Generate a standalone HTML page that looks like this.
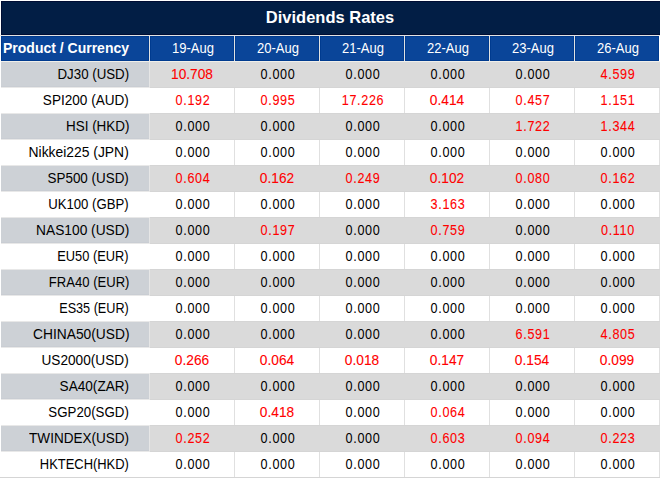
<!DOCTYPE html><html><head><meta charset="utf-8"><style>
html,body{margin:0;padding:0;background:#fff;}
body{width:660px;height:478px;position:relative;overflow:hidden;font-family:"Liberation Sans",sans-serif;}
div,span{position:absolute;box-sizing:border-box;white-space:nowrap;}
.t{left:1px;top:1px;width:659px;height:34px;background:#021e45;border-top:1px solid #000d33;border-left:1px solid #000d33;border-bottom:1px solid #000d33;}
.h{top:36px;height:25px;background:#0a4599;border:1px solid #003b8f;}
.tx{line-height:20px;height:20px;-webkit-text-stroke:0px currentColor;}
.w.tx{-webkit-text-stroke:0;}
.r.tx{-webkit-text-stroke:0.1px currentColor;}
.lb.tx{-webkit-text-stroke:0px currentColor;}
.w{color:#fff;}
.k{color:#000000;}
.r{color:#ff0000;}
.g1{background:#cdd1d6;}
.g2{background:#dadada;}
</style></head><body>
<div style="left:0;top:35px;width:660px;height:1px;background:#e4e4e4"></div>
<div class="t"></div>
<div style="left:1px;top:36px;width:658px;height:25px;background:#e2e2e2"></div>
<div class="h" style="left:1px;width:148px"></div>
<div class="h" style="left:150px;width:84px"></div>
<div class="h" style="left:235px;width:84px"></div>
<div class="h" style="left:320px;width:84px"></div>
<div class="h" style="left:405px;width:84px"></div>
<div class="h" style="left:490px;width:84px"></div>
<div class="h" style="left:575px;width:84px"></div>
<div style="left:1px;top:61px;width:659px;height:1px;background:#f0efea"></div>
<div style="left:0;top:36px;width:1px;height:25px;background:#fff"></div>
<div class="g1" style="left:1px;top:62px;width:148px;height:25px;border-bottom:1px solid #c9cdd3"></div>
<div style="left:149px;top:62px;width:1px;height:25px;background:#e6e6e6"></div>
<div class="g2" style="left:150px;top:62px;width:510px;height:25px"></div>
<div style="left:150px;top:87px;width:510px;height:1px;background:#d5d5d5"></div>
<div style="left:1px;top:87px;width:149px;height:1px;background:#e8e8e8"></div>
<div style="left:234px;top:88px;width:1px;height:25px;background:#e0e0e0"></div>
<div style="left:319px;top:88px;width:1px;height:25px;background:#e0e0e0"></div>
<div style="left:404px;top:88px;width:1px;height:25px;background:#e0e0e0"></div>
<div style="left:489px;top:88px;width:1px;height:25px;background:#e0e0e0"></div>
<div style="left:574px;top:88px;width:1px;height:25px;background:#e0e0e0"></div>
<div style="left:659px;top:88px;width:1px;height:25px;background:#e0e0e0"></div>
<div style="left:150px;top:113px;width:510px;height:1px;background:#d5d5d5"></div>
<div style="left:1px;top:113px;width:149px;height:1px;background:#e8e8e8"></div>
<div class="g1" style="left:1px;top:114px;width:148px;height:25px;border-bottom:1px solid #c9cdd3"></div>
<div style="left:149px;top:114px;width:1px;height:25px;background:#e6e6e6"></div>
<div class="g2" style="left:150px;top:114px;width:510px;height:25px"></div>
<div style="left:150px;top:139px;width:510px;height:1px;background:#d5d5d5"></div>
<div style="left:1px;top:139px;width:149px;height:1px;background:#e8e8e8"></div>
<div style="left:234px;top:140px;width:1px;height:25px;background:#e0e0e0"></div>
<div style="left:319px;top:140px;width:1px;height:25px;background:#e0e0e0"></div>
<div style="left:404px;top:140px;width:1px;height:25px;background:#e0e0e0"></div>
<div style="left:489px;top:140px;width:1px;height:25px;background:#e0e0e0"></div>
<div style="left:574px;top:140px;width:1px;height:25px;background:#e0e0e0"></div>
<div style="left:659px;top:140px;width:1px;height:25px;background:#e0e0e0"></div>
<div style="left:150px;top:165px;width:510px;height:1px;background:#d5d5d5"></div>
<div style="left:1px;top:165px;width:149px;height:1px;background:#e8e8e8"></div>
<div class="g1" style="left:1px;top:166px;width:148px;height:25px;border-bottom:1px solid #c9cdd3"></div>
<div style="left:149px;top:166px;width:1px;height:25px;background:#e6e6e6"></div>
<div class="g2" style="left:150px;top:166px;width:510px;height:25px"></div>
<div style="left:150px;top:191px;width:510px;height:1px;background:#d5d5d5"></div>
<div style="left:1px;top:191px;width:149px;height:1px;background:#e8e8e8"></div>
<div style="left:234px;top:192px;width:1px;height:25px;background:#e0e0e0"></div>
<div style="left:319px;top:192px;width:1px;height:25px;background:#e0e0e0"></div>
<div style="left:404px;top:192px;width:1px;height:25px;background:#e0e0e0"></div>
<div style="left:489px;top:192px;width:1px;height:25px;background:#e0e0e0"></div>
<div style="left:574px;top:192px;width:1px;height:25px;background:#e0e0e0"></div>
<div style="left:659px;top:192px;width:1px;height:25px;background:#e0e0e0"></div>
<div style="left:150px;top:217px;width:510px;height:1px;background:#d5d5d5"></div>
<div style="left:1px;top:217px;width:149px;height:1px;background:#e8e8e8"></div>
<div class="g1" style="left:1px;top:218px;width:148px;height:25px;border-bottom:1px solid #c9cdd3"></div>
<div style="left:149px;top:218px;width:1px;height:25px;background:#e6e6e6"></div>
<div class="g2" style="left:150px;top:218px;width:510px;height:25px"></div>
<div style="left:150px;top:243px;width:510px;height:1px;background:#d5d5d5"></div>
<div style="left:1px;top:243px;width:149px;height:1px;background:#e8e8e8"></div>
<div style="left:234px;top:244px;width:1px;height:25px;background:#e0e0e0"></div>
<div style="left:319px;top:244px;width:1px;height:25px;background:#e0e0e0"></div>
<div style="left:404px;top:244px;width:1px;height:25px;background:#e0e0e0"></div>
<div style="left:489px;top:244px;width:1px;height:25px;background:#e0e0e0"></div>
<div style="left:574px;top:244px;width:1px;height:25px;background:#e0e0e0"></div>
<div style="left:659px;top:244px;width:1px;height:25px;background:#e0e0e0"></div>
<div style="left:150px;top:269px;width:510px;height:1px;background:#d5d5d5"></div>
<div style="left:1px;top:269px;width:149px;height:1px;background:#e8e8e8"></div>
<div class="g1" style="left:1px;top:270px;width:148px;height:25px;border-bottom:1px solid #c9cdd3"></div>
<div style="left:149px;top:270px;width:1px;height:25px;background:#e6e6e6"></div>
<div class="g2" style="left:150px;top:270px;width:510px;height:25px"></div>
<div style="left:150px;top:295px;width:510px;height:1px;background:#d5d5d5"></div>
<div style="left:1px;top:295px;width:149px;height:1px;background:#e8e8e8"></div>
<div style="left:234px;top:296px;width:1px;height:25px;background:#e0e0e0"></div>
<div style="left:319px;top:296px;width:1px;height:25px;background:#e0e0e0"></div>
<div style="left:404px;top:296px;width:1px;height:25px;background:#e0e0e0"></div>
<div style="left:489px;top:296px;width:1px;height:25px;background:#e0e0e0"></div>
<div style="left:574px;top:296px;width:1px;height:25px;background:#e0e0e0"></div>
<div style="left:659px;top:296px;width:1px;height:25px;background:#e0e0e0"></div>
<div style="left:150px;top:321px;width:510px;height:1px;background:#d5d5d5"></div>
<div style="left:1px;top:321px;width:149px;height:1px;background:#e8e8e8"></div>
<div class="g1" style="left:1px;top:322px;width:148px;height:25px;border-bottom:1px solid #c9cdd3"></div>
<div style="left:149px;top:322px;width:1px;height:25px;background:#e6e6e6"></div>
<div class="g2" style="left:150px;top:322px;width:510px;height:25px"></div>
<div style="left:150px;top:347px;width:510px;height:1px;background:#d5d5d5"></div>
<div style="left:1px;top:347px;width:149px;height:1px;background:#e8e8e8"></div>
<div style="left:234px;top:348px;width:1px;height:25px;background:#e0e0e0"></div>
<div style="left:319px;top:348px;width:1px;height:25px;background:#e0e0e0"></div>
<div style="left:404px;top:348px;width:1px;height:25px;background:#e0e0e0"></div>
<div style="left:489px;top:348px;width:1px;height:25px;background:#e0e0e0"></div>
<div style="left:574px;top:348px;width:1px;height:25px;background:#e0e0e0"></div>
<div style="left:659px;top:348px;width:1px;height:25px;background:#e0e0e0"></div>
<div style="left:150px;top:373px;width:510px;height:1px;background:#d5d5d5"></div>
<div style="left:1px;top:373px;width:149px;height:1px;background:#e8e8e8"></div>
<div class="g1" style="left:1px;top:374px;width:148px;height:25px;border-bottom:1px solid #c9cdd3"></div>
<div style="left:149px;top:374px;width:1px;height:25px;background:#e6e6e6"></div>
<div class="g2" style="left:150px;top:374px;width:510px;height:25px"></div>
<div style="left:150px;top:399px;width:510px;height:1px;background:#d5d5d5"></div>
<div style="left:1px;top:399px;width:149px;height:1px;background:#e8e8e8"></div>
<div style="left:234px;top:400px;width:1px;height:25px;background:#e0e0e0"></div>
<div style="left:319px;top:400px;width:1px;height:25px;background:#e0e0e0"></div>
<div style="left:404px;top:400px;width:1px;height:25px;background:#e0e0e0"></div>
<div style="left:489px;top:400px;width:1px;height:25px;background:#e0e0e0"></div>
<div style="left:574px;top:400px;width:1px;height:25px;background:#e0e0e0"></div>
<div style="left:659px;top:400px;width:1px;height:25px;background:#e0e0e0"></div>
<div style="left:150px;top:425px;width:510px;height:1px;background:#d5d5d5"></div>
<div style="left:1px;top:425px;width:149px;height:1px;background:#e8e8e8"></div>
<div class="g1" style="left:1px;top:426px;width:148px;height:25px;border-bottom:1px solid #c9cdd3"></div>
<div style="left:149px;top:426px;width:1px;height:25px;background:#e6e6e6"></div>
<div class="g2" style="left:150px;top:426px;width:510px;height:25px"></div>
<div style="left:150px;top:451px;width:510px;height:1px;background:#d5d5d5"></div>
<div style="left:1px;top:451px;width:149px;height:1px;background:#e8e8e8"></div>
<div style="left:234px;top:452px;width:1px;height:25px;background:#e0e0e0"></div>
<div style="left:319px;top:452px;width:1px;height:25px;background:#e0e0e0"></div>
<div style="left:404px;top:452px;width:1px;height:25px;background:#e0e0e0"></div>
<div style="left:489px;top:452px;width:1px;height:25px;background:#e0e0e0"></div>
<div style="left:574px;top:452px;width:1px;height:25px;background:#e0e0e0"></div>
<div style="left:659px;top:452px;width:1px;height:25px;background:#e0e0e0"></div>
<div style="left:150px;top:477px;width:510px;height:1px;background:#d5d5d5"></div>
<div style="left:1px;top:477px;width:149px;height:1px;background:#e8e8e8"></div>
<div style="left:0;top:477px;width:660px;height:1px;background:#d5d5d5"></div>
<span class="tx w" style="font-size:17px;font-weight:bold;top:8px;letter-spacing:0px;left:230.0px;width:200px;text-align:center;transform-origin:50% 50%;transform:scaleX(0.9700);">Dividends Rates</span>
<span class="tx w" style="font-size:14px;font-weight:bold;top:38px;letter-spacing:0px;left:3px;transform-origin:0 50%;">Product / Currency</span>
<span class="tx w" style="font-size:14px;font-weight:normal;top:38px;letter-spacing:0px;left:92.5px;width:200px;text-align:center;transform-origin:50% 50%;transform:scaleX(0.9300);">19-Aug</span>
<span class="tx w" style="font-size:14px;font-weight:normal;top:38px;letter-spacing:0px;left:177.5px;width:200px;text-align:center;transform-origin:50% 50%;transform:scaleX(0.9300);">20-Aug</span>
<span class="tx w" style="font-size:14px;font-weight:normal;top:38px;letter-spacing:0px;left:262.5px;width:200px;text-align:center;transform-origin:50% 50%;transform:scaleX(0.9300);">21-Aug</span>
<span class="tx w" style="font-size:14px;font-weight:normal;top:38px;letter-spacing:0px;left:347.5px;width:200px;text-align:center;transform-origin:50% 50%;transform:scaleX(0.9300);">22-Aug</span>
<span class="tx w" style="font-size:14px;font-weight:normal;top:38px;letter-spacing:0px;left:432.5px;width:200px;text-align:center;transform-origin:50% 50%;transform:scaleX(0.9300);">23-Aug</span>
<span class="tx w" style="font-size:14px;font-weight:normal;top:38px;letter-spacing:0px;left:517.5px;width:200px;text-align:center;transform-origin:50% 50%;transform:scaleX(0.9300);">26-Aug</span>
<span class="tx k lb" style="font-size:14.5px;font-weight:normal;top:64px;letter-spacing:0px;right:531.0px;transform-origin:100% 50%;transform:scaleX(0.9171);">DJ30 (USD)</span>
<span class="tx r" style="font-size:14.5px;font-weight:normal;top:64px;letter-spacing:0px;left:92.0px;width:200px;text-align:center;transform-origin:50% 50%;transform:scaleX(0.9450);">10.708</span>
<span class="tx k" style="font-size:14.5px;font-weight:normal;top:64px;letter-spacing:0.75px;left:177.82625000000002px;width:200px;text-align:center;transform-origin:50% 50%;transform:scaleX(0.8700);">0.000</span>
<span class="tx k" style="font-size:14.5px;font-weight:normal;top:64px;letter-spacing:0.75px;left:262.82625px;width:200px;text-align:center;transform-origin:50% 50%;transform:scaleX(0.8700);">0.000</span>
<span class="tx k" style="font-size:14.5px;font-weight:normal;top:64px;letter-spacing:0.75px;left:347.82625px;width:200px;text-align:center;transform-origin:50% 50%;transform:scaleX(0.8700);">0.000</span>
<span class="tx k" style="font-size:14.5px;font-weight:normal;top:64px;letter-spacing:0.75px;left:432.82624999999996px;width:200px;text-align:center;transform-origin:50% 50%;transform:scaleX(0.8700);">0.000</span>
<span class="tx r" style="font-size:14.5px;font-weight:normal;top:64px;letter-spacing:0.75px;left:517.82625px;width:200px;text-align:center;transform-origin:50% 50%;transform:scaleX(0.8700);">4.599</span>
<span class="tx k lb" style="font-size:14.5px;font-weight:normal;top:90px;letter-spacing:0px;right:531.0px;transform-origin:100% 50%;transform:scaleX(0.9366);">SPI200 (AUD)</span>
<span class="tx r" style="font-size:14.5px;font-weight:normal;top:90px;letter-spacing:0.75px;left:92.82624999999999px;width:200px;text-align:center;transform-origin:50% 50%;transform:scaleX(0.8700);">0.192</span>
<span class="tx r" style="font-size:14.5px;font-weight:normal;top:90px;letter-spacing:0.75px;left:177.82625000000002px;width:200px;text-align:center;transform-origin:50% 50%;transform:scaleX(0.8700);">0.995</span>
<span class="tx r" style="font-size:14.5px;font-weight:normal;top:90px;letter-spacing:0.75px;left:262.82625px;width:200px;text-align:center;transform-origin:50% 50%;transform:scaleX(0.8700);">17.226</span>
<span class="tx r" style="font-size:14.5px;font-weight:normal;top:90px;letter-spacing:0px;left:347.0px;width:200px;text-align:center;transform-origin:50% 50%;transform:scaleX(0.9450);">0.414</span>
<span class="tx r" style="font-size:14.5px;font-weight:normal;top:90px;letter-spacing:0.75px;left:432.82624999999996px;width:200px;text-align:center;transform-origin:50% 50%;transform:scaleX(0.8700);">0.457</span>
<span class="tx r" style="font-size:14.5px;font-weight:normal;top:90px;letter-spacing:0.75px;left:517.82625px;width:200px;text-align:center;transform-origin:50% 50%;transform:scaleX(0.8700);">1.151</span>
<span class="tx k lb" style="font-size:14.5px;font-weight:normal;top:116px;letter-spacing:0px;right:531.0px;transform-origin:100% 50%;transform:scaleX(0.9271);">HSI (HKD)</span>
<span class="tx k" style="font-size:14.5px;font-weight:normal;top:116px;letter-spacing:0.75px;left:92.82624999999999px;width:200px;text-align:center;transform-origin:50% 50%;transform:scaleX(0.8700);">0.000</span>
<span class="tx k" style="font-size:14.5px;font-weight:normal;top:116px;letter-spacing:0.75px;left:177.82625000000002px;width:200px;text-align:center;transform-origin:50% 50%;transform:scaleX(0.8700);">0.000</span>
<span class="tx k" style="font-size:14.5px;font-weight:normal;top:116px;letter-spacing:0.75px;left:262.82625px;width:200px;text-align:center;transform-origin:50% 50%;transform:scaleX(0.8700);">0.000</span>
<span class="tx k" style="font-size:14.5px;font-weight:normal;top:116px;letter-spacing:0.75px;left:347.82625px;width:200px;text-align:center;transform-origin:50% 50%;transform:scaleX(0.8700);">0.000</span>
<span class="tx r" style="font-size:14.5px;font-weight:normal;top:116px;letter-spacing:0.75px;left:432.82624999999996px;width:200px;text-align:center;transform-origin:50% 50%;transform:scaleX(0.8700);">1.722</span>
<span class="tx r" style="font-size:14.5px;font-weight:normal;top:116px;letter-spacing:0.75px;left:517.82625px;width:200px;text-align:center;transform-origin:50% 50%;transform:scaleX(0.8700);">1.344</span>
<span class="tx k lb" style="font-size:14.5px;font-weight:normal;top:142px;letter-spacing:0px;right:531.0px;transform-origin:100% 50%;transform:scaleX(0.9567);">Nikkei225 (JPN)</span>
<span class="tx k" style="font-size:14.5px;font-weight:normal;top:142px;letter-spacing:0.75px;left:92.82624999999999px;width:200px;text-align:center;transform-origin:50% 50%;transform:scaleX(0.8700);">0.000</span>
<span class="tx k" style="font-size:14.5px;font-weight:normal;top:142px;letter-spacing:0.75px;left:177.82625000000002px;width:200px;text-align:center;transform-origin:50% 50%;transform:scaleX(0.8700);">0.000</span>
<span class="tx k" style="font-size:14.5px;font-weight:normal;top:142px;letter-spacing:0.75px;left:262.82625px;width:200px;text-align:center;transform-origin:50% 50%;transform:scaleX(0.8700);">0.000</span>
<span class="tx k" style="font-size:14.5px;font-weight:normal;top:142px;letter-spacing:0.75px;left:347.82625px;width:200px;text-align:center;transform-origin:50% 50%;transform:scaleX(0.8700);">0.000</span>
<span class="tx k" style="font-size:14.5px;font-weight:normal;top:142px;letter-spacing:0.75px;left:432.82624999999996px;width:200px;text-align:center;transform-origin:50% 50%;transform:scaleX(0.8700);">0.000</span>
<span class="tx k" style="font-size:14.5px;font-weight:normal;top:142px;letter-spacing:0.75px;left:517.82625px;width:200px;text-align:center;transform-origin:50% 50%;transform:scaleX(0.8700);">0.000</span>
<span class="tx k lb" style="font-size:14.5px;font-weight:normal;top:168px;letter-spacing:0px;right:531.0px;transform-origin:100% 50%;transform:scaleX(0.9255);">SP500 (USD)</span>
<span class="tx r" style="font-size:14.5px;font-weight:normal;top:168px;letter-spacing:0.75px;left:92.82624999999999px;width:200px;text-align:center;transform-origin:50% 50%;transform:scaleX(0.8700);">0.604</span>
<span class="tx r" style="font-size:14.5px;font-weight:normal;top:168px;letter-spacing:0px;left:177.0px;width:200px;text-align:center;transform-origin:50% 50%;transform:scaleX(0.9450);">0.162</span>
<span class="tx r" style="font-size:14.5px;font-weight:normal;top:168px;letter-spacing:0.75px;left:262.82625px;width:200px;text-align:center;transform-origin:50% 50%;transform:scaleX(0.8700);">0.249</span>
<span class="tx r" style="font-size:14.5px;font-weight:normal;top:168px;letter-spacing:0px;left:347.0px;width:200px;text-align:center;transform-origin:50% 50%;transform:scaleX(0.9450);">0.102</span>
<span class="tx r" style="font-size:14.5px;font-weight:normal;top:168px;letter-spacing:0.75px;left:432.82624999999996px;width:200px;text-align:center;transform-origin:50% 50%;transform:scaleX(0.8700);">0.080</span>
<span class="tx r" style="font-size:14.5px;font-weight:normal;top:168px;letter-spacing:0.75px;left:517.82625px;width:200px;text-align:center;transform-origin:50% 50%;transform:scaleX(0.8700);">0.162</span>
<span class="tx k lb" style="font-size:14.5px;font-weight:normal;top:194px;letter-spacing:0px;right:531.0px;transform-origin:100% 50%;transform:scaleX(0.9075);">UK100 (GBP)</span>
<span class="tx k" style="font-size:14.5px;font-weight:normal;top:194px;letter-spacing:0.75px;left:92.82624999999999px;width:200px;text-align:center;transform-origin:50% 50%;transform:scaleX(0.8700);">0.000</span>
<span class="tx k" style="font-size:14.5px;font-weight:normal;top:194px;letter-spacing:0.75px;left:177.82625000000002px;width:200px;text-align:center;transform-origin:50% 50%;transform:scaleX(0.8700);">0.000</span>
<span class="tx k" style="font-size:14.5px;font-weight:normal;top:194px;letter-spacing:0.75px;left:262.82625px;width:200px;text-align:center;transform-origin:50% 50%;transform:scaleX(0.8700);">0.000</span>
<span class="tx r" style="font-size:14.5px;font-weight:normal;top:194px;letter-spacing:0.75px;left:347.82625px;width:200px;text-align:center;transform-origin:50% 50%;transform:scaleX(0.8700);">3.163</span>
<span class="tx k" style="font-size:14.5px;font-weight:normal;top:194px;letter-spacing:0.75px;left:432.82624999999996px;width:200px;text-align:center;transform-origin:50% 50%;transform:scaleX(0.8700);">0.000</span>
<span class="tx k" style="font-size:14.5px;font-weight:normal;top:194px;letter-spacing:0.75px;left:517.82625px;width:200px;text-align:center;transform-origin:50% 50%;transform:scaleX(0.8700);">0.000</span>
<span class="tx k lb" style="font-size:14.5px;font-weight:normal;top:220px;letter-spacing:0px;right:531.0px;transform-origin:100% 50%;transform:scaleX(0.9485);">NAS100 (USD)</span>
<span class="tx k" style="font-size:14.5px;font-weight:normal;top:220px;letter-spacing:0.75px;left:92.82624999999999px;width:200px;text-align:center;transform-origin:50% 50%;transform:scaleX(0.8700);">0.000</span>
<span class="tx r" style="font-size:14.5px;font-weight:normal;top:220px;letter-spacing:0.75px;left:177.82625000000002px;width:200px;text-align:center;transform-origin:50% 50%;transform:scaleX(0.8700);">0.197</span>
<span class="tx k" style="font-size:14.5px;font-weight:normal;top:220px;letter-spacing:0.75px;left:262.82625px;width:200px;text-align:center;transform-origin:50% 50%;transform:scaleX(0.8700);">0.000</span>
<span class="tx r" style="font-size:14.5px;font-weight:normal;top:220px;letter-spacing:0.75px;left:347.82625px;width:200px;text-align:center;transform-origin:50% 50%;transform:scaleX(0.8700);">0.759</span>
<span class="tx k" style="font-size:14.5px;font-weight:normal;top:220px;letter-spacing:0.75px;left:432.82624999999996px;width:200px;text-align:center;transform-origin:50% 50%;transform:scaleX(0.8700);">0.000</span>
<span class="tx r" style="font-size:14.5px;font-weight:normal;top:220px;letter-spacing:0.75px;left:517.82625px;width:200px;text-align:center;transform-origin:50% 50%;transform:scaleX(0.8700);">0.110</span>
<span class="tx k lb" style="font-size:14.5px;font-weight:normal;top:246px;letter-spacing:0px;right:531.0px;transform-origin:100% 50%;transform:scaleX(0.8848);">EU50 (EUR)</span>
<span class="tx k" style="font-size:14.5px;font-weight:normal;top:246px;letter-spacing:0.75px;left:92.82624999999999px;width:200px;text-align:center;transform-origin:50% 50%;transform:scaleX(0.8700);">0.000</span>
<span class="tx k" style="font-size:14.5px;font-weight:normal;top:246px;letter-spacing:0.75px;left:177.82625000000002px;width:200px;text-align:center;transform-origin:50% 50%;transform:scaleX(0.8700);">0.000</span>
<span class="tx k" style="font-size:14.5px;font-weight:normal;top:246px;letter-spacing:0.75px;left:262.82625px;width:200px;text-align:center;transform-origin:50% 50%;transform:scaleX(0.8700);">0.000</span>
<span class="tx k" style="font-size:14.5px;font-weight:normal;top:246px;letter-spacing:0.75px;left:347.82625px;width:200px;text-align:center;transform-origin:50% 50%;transform:scaleX(0.8700);">0.000</span>
<span class="tx k" style="font-size:14.5px;font-weight:normal;top:246px;letter-spacing:0.75px;left:432.82624999999996px;width:200px;text-align:center;transform-origin:50% 50%;transform:scaleX(0.8700);">0.000</span>
<span class="tx k" style="font-size:14.5px;font-weight:normal;top:246px;letter-spacing:0.75px;left:517.82625px;width:200px;text-align:center;transform-origin:50% 50%;transform:scaleX(0.8700);">0.000</span>
<span class="tx k lb" style="font-size:14.5px;font-weight:normal;top:272px;letter-spacing:0px;right:531.0px;transform-origin:100% 50%;transform:scaleX(0.9008);">FRA40 (EUR)</span>
<span class="tx k" style="font-size:14.5px;font-weight:normal;top:272px;letter-spacing:0.75px;left:92.82624999999999px;width:200px;text-align:center;transform-origin:50% 50%;transform:scaleX(0.8700);">0.000</span>
<span class="tx k" style="font-size:14.5px;font-weight:normal;top:272px;letter-spacing:0.75px;left:177.82625000000002px;width:200px;text-align:center;transform-origin:50% 50%;transform:scaleX(0.8700);">0.000</span>
<span class="tx k" style="font-size:14.5px;font-weight:normal;top:272px;letter-spacing:0.75px;left:262.82625px;width:200px;text-align:center;transform-origin:50% 50%;transform:scaleX(0.8700);">0.000</span>
<span class="tx k" style="font-size:14.5px;font-weight:normal;top:272px;letter-spacing:0.75px;left:347.82625px;width:200px;text-align:center;transform-origin:50% 50%;transform:scaleX(0.8700);">0.000</span>
<span class="tx k" style="font-size:14.5px;font-weight:normal;top:272px;letter-spacing:0.75px;left:432.82624999999996px;width:200px;text-align:center;transform-origin:50% 50%;transform:scaleX(0.8700);">0.000</span>
<span class="tx k" style="font-size:14.5px;font-weight:normal;top:272px;letter-spacing:0.75px;left:517.82625px;width:200px;text-align:center;transform-origin:50% 50%;transform:scaleX(0.8700);">0.000</span>
<span class="tx k lb" style="font-size:14.5px;font-weight:normal;top:298px;letter-spacing:0px;right:531.0px;transform-origin:100% 50%;transform:scaleX(0.8719);">ES35 (EUR)</span>
<span class="tx k" style="font-size:14.5px;font-weight:normal;top:298px;letter-spacing:0.75px;left:92.82624999999999px;width:200px;text-align:center;transform-origin:50% 50%;transform:scaleX(0.8700);">0.000</span>
<span class="tx k" style="font-size:14.5px;font-weight:normal;top:298px;letter-spacing:0.75px;left:177.82625000000002px;width:200px;text-align:center;transform-origin:50% 50%;transform:scaleX(0.8700);">0.000</span>
<span class="tx k" style="font-size:14.5px;font-weight:normal;top:298px;letter-spacing:0.75px;left:262.82625px;width:200px;text-align:center;transform-origin:50% 50%;transform:scaleX(0.8700);">0.000</span>
<span class="tx k" style="font-size:14.5px;font-weight:normal;top:298px;letter-spacing:0.75px;left:347.82625px;width:200px;text-align:center;transform-origin:50% 50%;transform:scaleX(0.8700);">0.000</span>
<span class="tx k" style="font-size:14.5px;font-weight:normal;top:298px;letter-spacing:0.75px;left:432.82624999999996px;width:200px;text-align:center;transform-origin:50% 50%;transform:scaleX(0.8700);">0.000</span>
<span class="tx k" style="font-size:14.5px;font-weight:normal;top:298px;letter-spacing:0.75px;left:517.82625px;width:200px;text-align:center;transform-origin:50% 50%;transform:scaleX(0.8700);">0.000</span>
<span class="tx k lb" style="font-size:14.5px;font-weight:normal;top:324px;letter-spacing:0px;right:530.0px;transform-origin:100% 50%;transform:scaleX(0.9499);">CHINA50(USD)</span>
<span class="tx k" style="font-size:14.5px;font-weight:normal;top:324px;letter-spacing:0.75px;left:92.82624999999999px;width:200px;text-align:center;transform-origin:50% 50%;transform:scaleX(0.8700);">0.000</span>
<span class="tx k" style="font-size:14.5px;font-weight:normal;top:324px;letter-spacing:0.75px;left:177.82625000000002px;width:200px;text-align:center;transform-origin:50% 50%;transform:scaleX(0.8700);">0.000</span>
<span class="tx k" style="font-size:14.5px;font-weight:normal;top:324px;letter-spacing:0.75px;left:262.82625px;width:200px;text-align:center;transform-origin:50% 50%;transform:scaleX(0.8700);">0.000</span>
<span class="tx k" style="font-size:14.5px;font-weight:normal;top:324px;letter-spacing:0.75px;left:347.82625px;width:200px;text-align:center;transform-origin:50% 50%;transform:scaleX(0.8700);">0.000</span>
<span class="tx r" style="font-size:14.5px;font-weight:normal;top:324px;letter-spacing:0.75px;left:432.82624999999996px;width:200px;text-align:center;transform-origin:50% 50%;transform:scaleX(0.8700);">6.591</span>
<span class="tx r" style="font-size:14.5px;font-weight:normal;top:324px;letter-spacing:0.75px;left:517.82625px;width:200px;text-align:center;transform-origin:50% 50%;transform:scaleX(0.8700);">4.805</span>
<span class="tx k lb" style="font-size:14.5px;font-weight:normal;top:350px;letter-spacing:0px;right:531.0px;transform-origin:100% 50%;transform:scaleX(0.9409);">US2000(USD)</span>
<span class="tx r" style="font-size:14.5px;font-weight:normal;top:350px;letter-spacing:0px;left:92.0px;width:200px;text-align:center;transform-origin:50% 50%;transform:scaleX(0.9450);">0.266</span>
<span class="tx r" style="font-size:14.5px;font-weight:normal;top:350px;letter-spacing:0px;left:177.0px;width:200px;text-align:center;transform-origin:50% 50%;transform:scaleX(0.9450);">0.064</span>
<span class="tx r" style="font-size:14.5px;font-weight:normal;top:350px;letter-spacing:0px;left:262.0px;width:200px;text-align:center;transform-origin:50% 50%;transform:scaleX(0.9450);">0.018</span>
<span class="tx r" style="font-size:14.5px;font-weight:normal;top:350px;letter-spacing:0px;left:347.0px;width:200px;text-align:center;transform-origin:50% 50%;transform:scaleX(0.9450);">0.147</span>
<span class="tx r" style="font-size:14.5px;font-weight:normal;top:350px;letter-spacing:0px;left:432.0px;width:200px;text-align:center;transform-origin:50% 50%;transform:scaleX(0.9450);">0.154</span>
<span class="tx r" style="font-size:14.5px;font-weight:normal;top:350px;letter-spacing:0px;left:517.0px;width:200px;text-align:center;transform-origin:50% 50%;transform:scaleX(0.9450);">0.099</span>
<span class="tx k lb" style="font-size:14.5px;font-weight:normal;top:376px;letter-spacing:0px;right:531.0px;transform-origin:100% 50%;transform:scaleX(0.9383);">SA40(ZAR)</span>
<span class="tx k" style="font-size:14.5px;font-weight:normal;top:376px;letter-spacing:0.75px;left:92.82624999999999px;width:200px;text-align:center;transform-origin:50% 50%;transform:scaleX(0.8700);">0.000</span>
<span class="tx k" style="font-size:14.5px;font-weight:normal;top:376px;letter-spacing:0.75px;left:177.82625000000002px;width:200px;text-align:center;transform-origin:50% 50%;transform:scaleX(0.8700);">0.000</span>
<span class="tx k" style="font-size:14.5px;font-weight:normal;top:376px;letter-spacing:0.75px;left:262.82625px;width:200px;text-align:center;transform-origin:50% 50%;transform:scaleX(0.8700);">0.000</span>
<span class="tx k" style="font-size:14.5px;font-weight:normal;top:376px;letter-spacing:0.75px;left:347.82625px;width:200px;text-align:center;transform-origin:50% 50%;transform:scaleX(0.8700);">0.000</span>
<span class="tx k" style="font-size:14.5px;font-weight:normal;top:376px;letter-spacing:0.75px;left:432.82624999999996px;width:200px;text-align:center;transform-origin:50% 50%;transform:scaleX(0.8700);">0.000</span>
<span class="tx k" style="font-size:14.5px;font-weight:normal;top:376px;letter-spacing:0.75px;left:517.82625px;width:200px;text-align:center;transform-origin:50% 50%;transform:scaleX(0.8700);">0.000</span>
<span class="tx k lb" style="font-size:14.5px;font-weight:normal;top:402px;letter-spacing:0px;right:531.0px;transform-origin:100% 50%;transform:scaleX(0.9163);">SGP20(SGD)</span>
<span class="tx k" style="font-size:14.5px;font-weight:normal;top:402px;letter-spacing:0.75px;left:92.82624999999999px;width:200px;text-align:center;transform-origin:50% 50%;transform:scaleX(0.8700);">0.000</span>
<span class="tx r" style="font-size:14.5px;font-weight:normal;top:402px;letter-spacing:0px;left:177.0px;width:200px;text-align:center;transform-origin:50% 50%;transform:scaleX(0.9450);">0.418</span>
<span class="tx k" style="font-size:14.5px;font-weight:normal;top:402px;letter-spacing:0.75px;left:262.82625px;width:200px;text-align:center;transform-origin:50% 50%;transform:scaleX(0.8700);">0.000</span>
<span class="tx r" style="font-size:14.5px;font-weight:normal;top:402px;letter-spacing:0.75px;left:347.82625px;width:200px;text-align:center;transform-origin:50% 50%;transform:scaleX(0.8700);">0.064</span>
<span class="tx k" style="font-size:14.5px;font-weight:normal;top:402px;letter-spacing:0.75px;left:432.82624999999996px;width:200px;text-align:center;transform-origin:50% 50%;transform:scaleX(0.8700);">0.000</span>
<span class="tx k" style="font-size:14.5px;font-weight:normal;top:402px;letter-spacing:0.75px;left:517.82625px;width:200px;text-align:center;transform-origin:50% 50%;transform:scaleX(0.8700);">0.000</span>
<span class="tx k lb" style="font-size:14.5px;font-weight:normal;top:428px;letter-spacing:0px;right:531.0px;transform-origin:100% 50%;transform:scaleX(0.9338);">TWINDEX(USD)</span>
<span class="tx r" style="font-size:14.5px;font-weight:normal;top:428px;letter-spacing:0.75px;left:92.82624999999999px;width:200px;text-align:center;transform-origin:50% 50%;transform:scaleX(0.8700);">0.252</span>
<span class="tx k" style="font-size:14.5px;font-weight:normal;top:428px;letter-spacing:0.75px;left:177.82625000000002px;width:200px;text-align:center;transform-origin:50% 50%;transform:scaleX(0.8700);">0.000</span>
<span class="tx k" style="font-size:14.5px;font-weight:normal;top:428px;letter-spacing:0.75px;left:262.82625px;width:200px;text-align:center;transform-origin:50% 50%;transform:scaleX(0.8700);">0.000</span>
<span class="tx r" style="font-size:14.5px;font-weight:normal;top:428px;letter-spacing:0.75px;left:347.82625px;width:200px;text-align:center;transform-origin:50% 50%;transform:scaleX(0.8700);">0.603</span>
<span class="tx r" style="font-size:14.5px;font-weight:normal;top:428px;letter-spacing:0.75px;left:432.82624999999996px;width:200px;text-align:center;transform-origin:50% 50%;transform:scaleX(0.8700);">0.094</span>
<span class="tx r" style="font-size:14.5px;font-weight:normal;top:428px;letter-spacing:0.75px;left:517.82625px;width:200px;text-align:center;transform-origin:50% 50%;transform:scaleX(0.8700);">0.223</span>
<span class="tx k lb" style="font-size:14.5px;font-weight:normal;top:454px;letter-spacing:0px;right:531.0px;transform-origin:100% 50%;transform:scaleX(0.8918);">HKTECH(HKD)</span>
<span class="tx k" style="font-size:14.5px;font-weight:normal;top:454px;letter-spacing:0.75px;left:92.82624999999999px;width:200px;text-align:center;transform-origin:50% 50%;transform:scaleX(0.8700);">0.000</span>
<span class="tx k" style="font-size:14.5px;font-weight:normal;top:454px;letter-spacing:0.75px;left:177.82625000000002px;width:200px;text-align:center;transform-origin:50% 50%;transform:scaleX(0.8700);">0.000</span>
<span class="tx k" style="font-size:14.5px;font-weight:normal;top:454px;letter-spacing:0.75px;left:262.82625px;width:200px;text-align:center;transform-origin:50% 50%;transform:scaleX(0.8700);">0.000</span>
<span class="tx k" style="font-size:14.5px;font-weight:normal;top:454px;letter-spacing:0.75px;left:347.82625px;width:200px;text-align:center;transform-origin:50% 50%;transform:scaleX(0.8700);">0.000</span>
<span class="tx k" style="font-size:14.5px;font-weight:normal;top:454px;letter-spacing:0.75px;left:432.82624999999996px;width:200px;text-align:center;transform-origin:50% 50%;transform:scaleX(0.8700);">0.000</span>
<span class="tx k" style="font-size:14.5px;font-weight:normal;top:454px;letter-spacing:0.75px;left:517.82625px;width:200px;text-align:center;transform-origin:50% 50%;transform:scaleX(0.8700);">0.000</span>
</body></html>
